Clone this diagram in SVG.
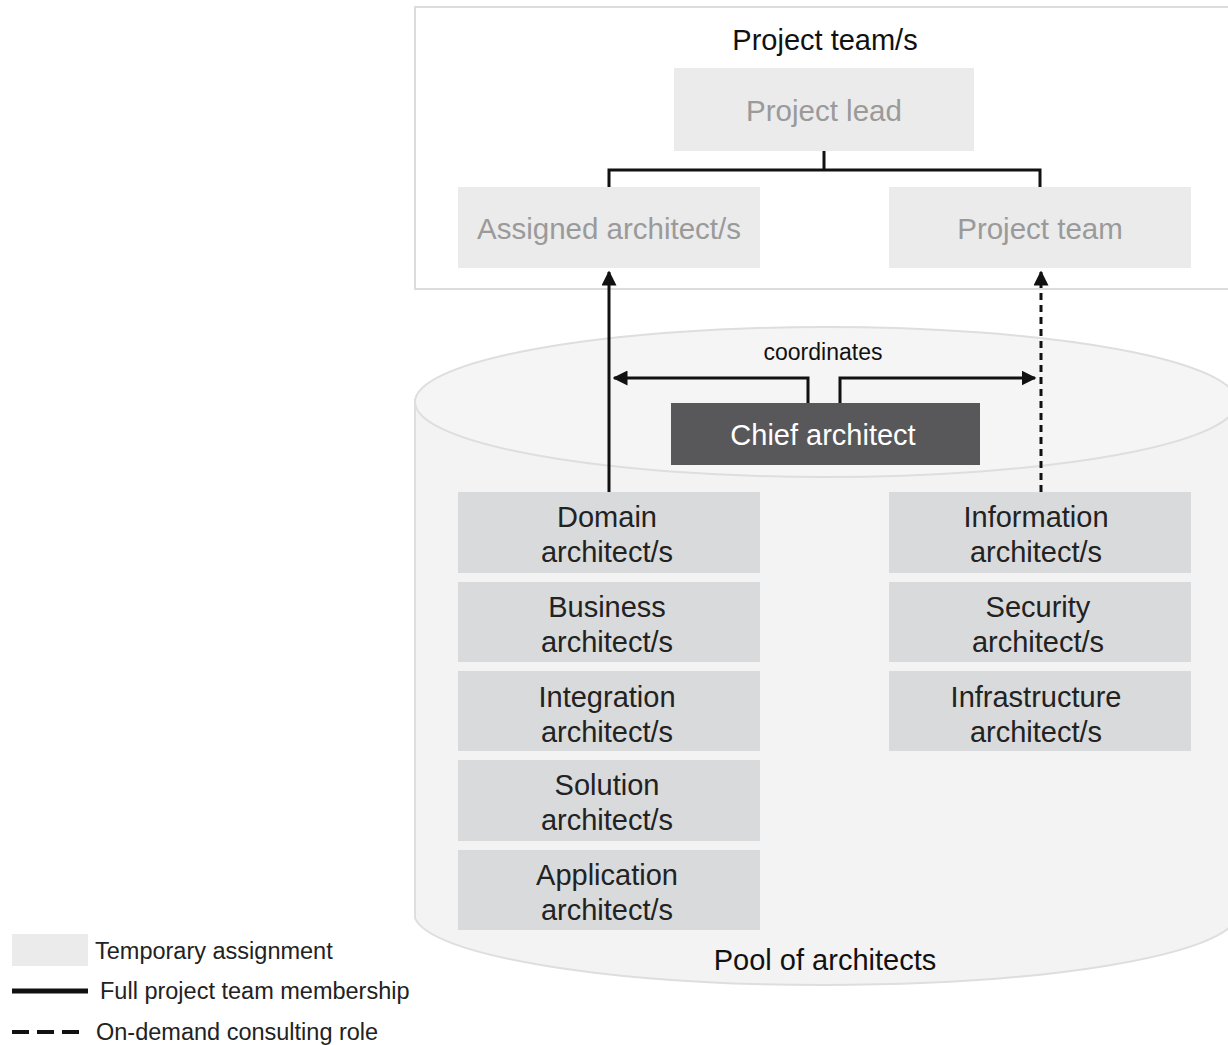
<svg xmlns="http://www.w3.org/2000/svg" width="1228" height="1045" viewBox="0 0 1228 1045">
<defs>
<style>
text{font-family:"Liberation Sans",Arial,sans-serif}
.tmp{fill:#ebebeb}
.tmpt{fill:#9a9a9a;font-size:29.5px;text-anchor:middle}
.pool{fill:#d9dadb}
.poolt{fill:#222;font-size:29px;text-anchor:middle}
.lbl{fill:#111;font-size:29px;text-anchor:middle}
.leg{fill:#222;font-size:23.5px}
.ln{fill:none;stroke:#111;stroke-width:3}
</style>
<marker id="ah" viewBox="0 0 10 10" refX="9" refY="5" markerWidth="5" markerHeight="5" orient="auto-start-reverse" markerUnits="strokeWidth">
<path d="M0,0 L10,5 L0,10 Z" fill="#111"/>
</marker>
</defs>
<rect width="1228" height="1045" fill="#fff"/>

<g id="project-teams">
<rect x="415" y="7" width="830" height="282" fill="#fff" stroke="#dcdcdc" stroke-width="2"/>
<text class="lbl" x="825" y="50">Project team/s</text>
</g>

<g id="pool">
<path d="M415,400 L415,918 A412,72 0 0 0 1237,918 L1237,400 Z" fill="#f3f3f3" stroke="#dedede" stroke-width="2"/>
<ellipse cx="826" cy="402" rx="411" ry="75" fill="#f5f5f5" stroke="#dedede" stroke-width="2"/>
<text class="lbl" x="825" y="970">Pool of architects</text>
</g>

<g id="project-lead"><rect class="tmp" x="674" y="68" width="300" height="83"/><text class="tmpt" x="824" y="121">Project lead</text></g>
<g id="assigned-architects"><rect class="tmp" x="458" y="187" width="302" height="81"/><text class="tmpt" x="609" y="239">Assigned architect/s</text></g>
<g id="project-team"><rect class="tmp" x="889" y="187" width="302" height="81"/><text class="tmpt" x="1040" y="239">Project team</text></g>

<g id="chief-architect"><rect x="671" y="403" width="309" height="62" fill="#58585a"/><text x="823" y="445" fill="#fff" font-size="29" text-anchor="middle">Chief architect</text></g>

<g id="domain"><rect class="pool" x="458" y="492" width="302" height="81"/><text class="poolt" x="607" y="527">Domain</text><text class="poolt" x="607" y="562">architect/s</text></g>
<g id="business"><rect class="pool" x="458" y="582" width="302" height="80"/><text class="poolt" x="607" y="617">Business</text><text class="poolt" x="607" y="652">architect/s</text></g>
<g id="integration"><rect class="pool" x="458" y="671" width="302" height="80"/><text class="poolt" x="607" y="707">Integration</text><text class="poolt" x="607" y="742">architect/s</text></g>
<g id="solution"><rect class="pool" x="458" y="760" width="302" height="81"/><text class="poolt" x="607" y="795">Solution</text><text class="poolt" x="607" y="830">architect/s</text></g>
<g id="application"><rect class="pool" x="458" y="850" width="302" height="80"/><text class="poolt" x="607" y="885">Application</text><text class="poolt" x="607" y="920">architect/s</text></g>

<g id="information"><rect class="pool" x="889" y="492" width="302" height="81"/><text class="poolt" x="1036" y="527">Information</text><text class="poolt" x="1036" y="562">architect/s</text></g>
<g id="security"><rect class="pool" x="889" y="582" width="302" height="80"/><text class="poolt" x="1038" y="617">Security</text><text class="poolt" x="1038" y="652">architect/s</text></g>
<g id="infrastructure"><rect class="pool" x="889" y="671" width="302" height="80"/><text class="poolt" x="1036" y="707">Infrastructure</text><text class="poolt" x="1036" y="742">architect/s</text></g>

<g id="connectors">
<path class="ln" d="M824,151 L824,170 M609,187 L609,170 L1040,170 L1040,187"/>
<path class="ln" d="M609,492 L609,272" marker-end="url(#ah)"/>
<path class="ln" d="M1041,492 L1041,272" stroke-dasharray="7,5" marker-end="url(#ah)"/>
<text x="823" y="360" fill="#111" font-size="23" text-anchor="middle">coordinates</text>
<path class="ln" d="M808,403 L808,378 L614,378" marker-end="url(#ah)"/>
<path class="ln" d="M840,403 L840,378 L1035,378" marker-end="url(#ah)"/>
</g>

<g id="legend">
<rect class="tmp" x="12" y="934" width="76" height="32"/>
<text class="leg" x="95" y="959">Temporary assignment</text>
<line x1="12" y1="991" x2="88" y2="991" stroke="#111" stroke-width="5"/>
<text class="leg" x="100" y="999">Full project team membership</text>
<line x1="12" y1="1032" x2="80" y2="1032" stroke="#111" stroke-width="4" stroke-dasharray="17,8"/>
<text class="leg" x="96" y="1040">On-demand consulting role</text>
</g>
</svg>
